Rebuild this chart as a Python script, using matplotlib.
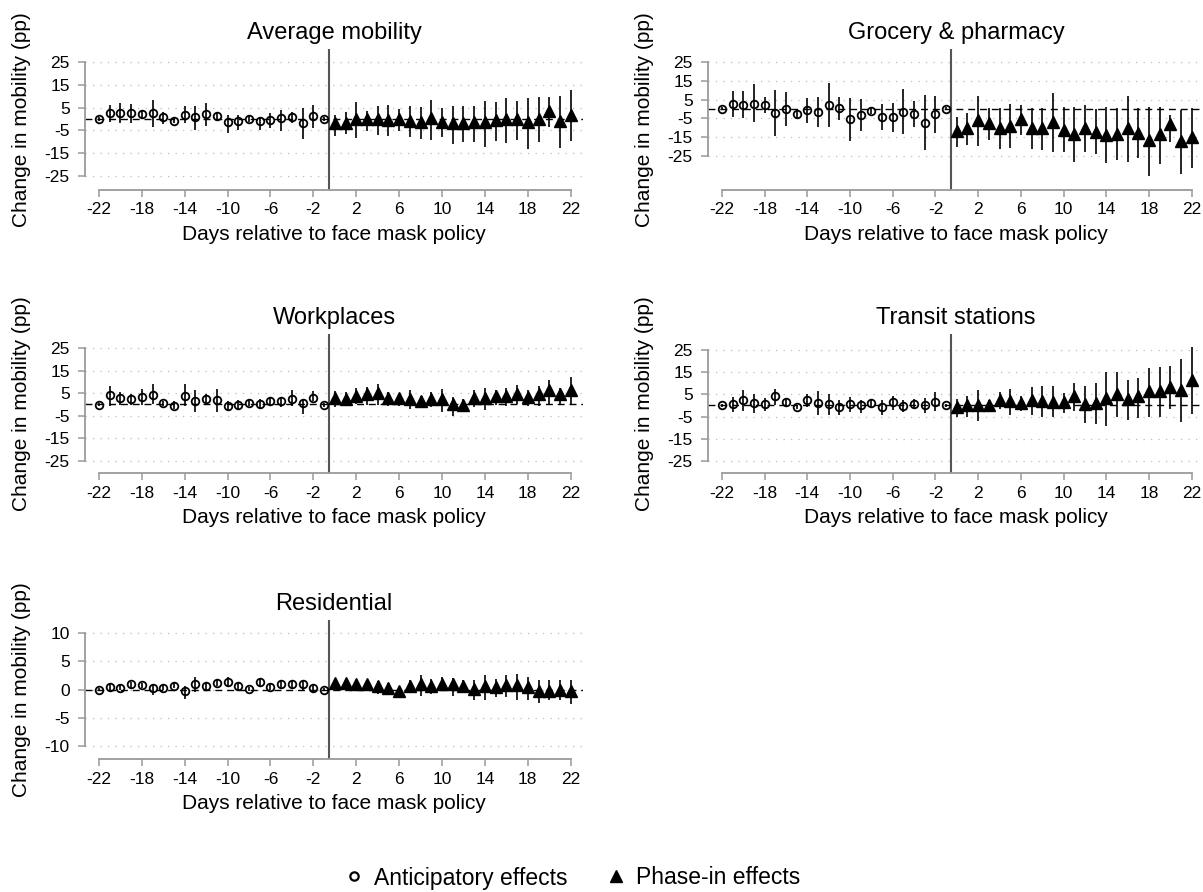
import matplotlib

matplotlib.use("Agg")
import matplotlib.pyplot as plt
from matplotlib.lines import Line2D
import numpy as np

plt.rcParams["font.family"] = ["Liberation Sans", "DejaVu Sans"]

DAYS = np.arange(-22, 23)
X_TICKS = list(range(-22, 23, 4))
Y_TICKS_WIDE = [25, 15, 5, -5, -15, -25]
Y_TICKS_RES = [10, 5, 0, -5, -10]
X_LABEL = "Days relative to face mask policy"
Y_LABEL = "Change in mobility (pp)"

# estimates and 95% CI bounds, days -22..22 (day < 0: anticipatory, day >= 0: phase-in)
AVG_EST = [0.0, 2.7, 2.7, 2.5, 2.2, 2.5, 1.0, -1.0, 1.8, 0.7, 2.1, 1.2, -1.5, -0.7, 0.0, -1.0, -0.4, 0.4, 0.7, -1.6, 1.2, 0.0,
           -1.9, -1.9, 0.0, -0.1, 0.0, -0.4, 0.0, -0.7, -1.3, 0.3, -1.3, -1.9, -1.9, -1.5, -1.3, -0.4, -0.1, -0.1, -1.3, 0.1, 3.6, -0.9, 1.9]
AVG_HI = [0.8, 6.2, 7.0, 6.7, 3.7, 8.4, 3.3, 0.3, 5.8, 5.5, 7.0, 2.5, 1.8, 1.8, 1.3, 1.0, 2.5, 4.0, 3.3, 4.7, 6.2, 0.8,
          1.8, 3.3, 7.3, 3.7, 5.8, 6.2, 4.3, 5.5, 5.2, 8.4, 4.7, 5.8, 5.5, 5.8, 8.1, 7.3, 9.2, 7.7, 9.2, 9.6, 9.6, 9.9, 12.7]
AVG_LO = [-0.8, -1.2, -1.9, -1.9, 0.3, -3.7, -2.2, -1.9, -1.9, -4.6, -3.1, -0.7, -6.1, -4.6, -1.2, -4.6, -4.1, -5.2, -1.9, -8.9, -4.1, -0.8,
          -7.6, -6.4, -8.1, -5.2, -6.8, -7.6, -5.2, -7.9, -8.6, -9.0, -7.9, -10.8, -10.0, -10.0, -12.3, -9.6, -10.5, -9.3, -13.0, -10.0, -3.4, -12.7, -9.5]

GRO_EST = [0.0, 2.7, 2.1, 2.8, 2.3, -2.3, 0.2, -2.7, -0.7, -1.4, 2.1, 0.7, -5.5, -3.0, -1.1, -4.4, -4.4, -1.4, -2.5, -7.3, -2.8, 0.0,
           -11.7, -9.9, -5.8, -7.6, -9.9, -8.8, -5.5, -9.9, -9.9, -6.7, -11.2, -13.3, -9.9, -12.4, -13.8, -13.3, -10.3, -12.6, -16.5, -13.5, -7.8, -17.0, -14.7]
GRO_HI = [0.8, 9.6, 9.6, 13.1, 6.5, 10.1, 8.8, 0.0, 6.0, 6.5, 13.6, 6.5, 6.0, 5.3, 0.4, 2.5, 3.0, 10.6, 4.2, 7.4, 6.9, 0.8,
          -4.1, -1.9, 7.1, 0.7, 0.7, 2.5, 2.1, 0.5, 0.3, 8.3, 0.8, 1.2, 2.1, 0.2, 1.0, 0.4, 7.1, 0.6, 1.2, 1.2, -3.2, -0.5, 0.4]
GRO_LO = [-0.8, -4.1, -5.0, -6.7, -2.3, -14.2, -8.8, -5.3, -7.6, -9.4, -9.4, -5.8, -17.0, -11.7, -2.8, -11.2, -12.0, -13.3, -9.4, -21.8, -12.9, -0.8,
          -20.0, -19.1, -19.5, -16.5, -21.2, -20.9, -13.8, -21.2, -21.8, -22.7, -23.0, -28.3, -23.0, -24.1, -28.8, -27.1, -28.0, -26.2, -35.4, -29.4, -17.4, -34.7, -31.2]

WRK_EST = [-0.1, 4.1, 2.7, 2.4, 3.3, 4.2, 0.5, -0.5, 3.8, 1.4, 2.3, 1.8, -0.5, -0.2, 0.8, 0.3, 1.4, 1.4, 2.3, 0.5, 2.9, -0.2,
           2.9, 2.6, 3.8, 4.4, 5.2, 2.9, 2.9, 2.6, 1.4, 2.3, 2.3, 0.3, -0.2, 2.9, 2.9, 3.8, 3.8, 4.8, 3.3, 4.4, 6.4, 4.4, 6.4]
WRK_HI = [0.7, 8.3, 5.6, 4.8, 6.8, 8.9, 1.4, 1.4, 8.9, 6.4, 4.8, 6.8, 1.4, 1.8, 2.6, 2.3, 3.3, 3.3, 6.4, 2.6, 5.9, 0.6,
          5.9, 5.3, 7.1, 7.9, 8.9, 5.6, 4.8, 6.4, 3.8, 5.3, 6.8, 3.3, 2.3, 6.4, 7.4, 6.4, 7.1, 8.6, 6.4, 8.3, 10.9, 7.4, 12.0]
WRK_LO = [-0.9, -0.5, -0.2, -0.2, -0.2, 0.3, -0.8, -2.0, -0.8, -3.5, 0.3, -3.2, -2.7, -2.0, -0.8, -2.0, -0.5, -1.2, -0.5, -4.2, 1.4, -1.0,
          -1.2, -0.8, 0.3, -0.2, -0.2, -0.5, -0.8, -2.0, -1.2, -1.2, -3.2, -5.0, -3.5, -1.2, -2.7, -0.2, -0.8, 0.3, -0.8, -0.8, -0.2, -0.2, -0.2]

TRN_EST = [0.0, 0.8, 2.3, 1.1, 0.8, 4.1, 1.4, -0.8, 2.3, 1.1, 0.8, -0.8, 0.5, 0.0, 1.1, -0.8, 1.4, -0.3, 0.9, 0.0, 1.5, 0.0,
           -0.8, 0.0, 0.0, 0.3, 2.3, 2.0, 1.1, 2.3, 2.0, 1.8, 1.5, 4.1, 0.8, 1.1, 3.5, 5.3, 3.0, 4.1, 6.5, 6.5, 8.3, 7.1, 11.7]
TRN_HI = [0.8, 3.8, 6.8, 5.0, 3.5, 7.6, 3.5, 0.2, 5.3, 6.5, 5.3, 2.6, 3.8, 2.6, 2.3, 2.3, 4.5, 2.3, 3.0, 3.5, 6.1, 0.8,
          3.0, 4.5, 6.8, 2.3, 6.1, 7.6, 4.5, 8.3, 8.6, 8.6, 5.6, 10.2, 8.6, 10.2, 15.2, 15.2, 11.7, 12.6, 16.7, 17.4, 17.7, 20.8, 26.2]
TRN_LO = [-0.8, -3.0, -2.6, -3.5, -2.6, 0.0, -0.8, -1.8, -0.8, -4.5, -4.1, -4.5, -3.0, -3.5, -0.5, -4.5, -2.0, -3.0, -1.5, -3.5, -2.6, -0.8,
          -5.3, -5.0, -7.1, -3.0, -1.5, -4.1, -2.3, -4.1, -5.0, -5.3, -3.5, -2.6, -8.0, -8.3, -9.1, -5.3, -6.5, -5.6, -5.0, -5.0, -1.5, -7.6, -3.8]

RES_EST = [0.0, 0.5, 0.35, 0.9, 0.75, 0.2, 0.35, 0.7, -0.25, 1.0, 0.65, 1.2, 1.4, 0.6, 0.1, 1.25, 0.5, 0.95, 0.95, 0.95, 0.2, 0.0,
           1.2, 1.2, 1.05, 1.0, 0.6, 0.2, -0.25, 0.6, 0.95, 0.7, 1.0, 0.95, 0.55, 0.05, 0.65, 0.45, 0.8, 0.8, 0.4, -0.2, -0.3, -0.1, -0.35]
RES_HI = [0.3, 0.9, 0.8, 1.35, 1.2, 0.9, 0.8, 1.2, 0.6, 2.3, 1.2, 1.6, 2.2, 1.2, 0.4, 2.1, 0.9, 1.5, 1.5, 1.5, 0.75, 0.3,
          1.9, 1.7, 1.6, 1.7, 1.5, 1.2, 0.35, 1.6, 2.5, 1.9, 2.2, 2.1, 1.6, 1.6, 2.6, 1.9, 2.6, 2.7, 2.2, 1.7, 1.6, 1.6, 1.7]
RES_LO = [-0.3, -0.2, -0.1, 0.35, 0.2, -1.0, -0.1, 0.2, -1.6, -0.5, 0.0, 0.6, 0.5, 0.0, -0.2, 0.4, 0.0, 0.35, 0.3, 0.0, -0.6, -0.3,
          0.0, 0.5, 0.2, 0.2, -0.8, -0.6, -0.7, -0.4, -1.1, -0.8, -0.2, -1.1, -0.5, -1.8, -1.8, -1.4, -1.3, -1.8, -1.9, -2.4, -1.9, -1.9, -2.6]

W, H = 1203, 892
GRID_C = "#bdbdbd"
AXIS_C = "#9a9a9a"


def add_axes_px(fig, left, top, right, bottom):
    return fig.add_axes([left / W, 1 - bottom / H, (right - left) / W, (bottom - top) / H])


def draw_panel(ax, title, est, lo, hi, yticks, ylim):
    est, lo, hi = np.asarray(est), np.asarray(lo), np.asarray(hi)
    assert len(est) == len(lo) == len(hi) == len(DAYS)
    pre = DAYS < 0
    post = ~pre

    for y in yticks:
        ax.axhline(y, color=GRID_C, lw=0.9, ls=(0, (1, 5)), zorder=1)
    ax.axhline(0, color="black", lw=1.0, ls=(0, (5, 3.5)), zorder=2)
    ax.axvline(-0.5, color="#555555", lw=1.5, zorder=2)

    ax.vlines(DAYS, lo, hi, color="black", lw=1.2, zorder=3)
    ax.plot(DAYS[pre], est[pre], ls="none", marker="o", ms=5.5, mfc="none",
            mec="black", mew=1.3, zorder=4)
    ax.plot(DAYS[post], est[post], ls="none", marker="^", ms=8, color="black", zorder=4)

    ax.set_xlim(-23.3, 23.15)
    ax.set_ylim(*ylim)
    ax.set_xticks(X_TICKS)
    ax.set_xticklabels([str(t) for t in X_TICKS])
    ax.set_yticks(yticks)
    ax.set_yticklabels([str(t) for t in yticks])
    ax.tick_params(axis="both", colors=AXIS_C, labelcolor="black", labelsize=12.5,
                   length=5, width=1.1)
    ax.tick_params(axis="y", pad=6)
    ax.tick_params(axis="x", pad=4)

    for s in ("top", "right"):
        ax.spines[s].set_visible(False)
    ax.spines["left"].set_bounds(min(yticks), max(yticks))
    ax.spines["bottom"].set_bounds(-22, 22)
    for s in ("left", "bottom"):
        ax.spines[s].set_color(AXIS_C)
        ax.spines[s].set_linewidth(1.3)

    ax.set_title(title, fontsize=17, pad=7)
    ax.set_xlabel(X_LABEL, fontsize=15)
    ax.set_ylabel(Y_LABEL, fontsize=15)
    ax.xaxis.set_label_coords(0.5, -0.25)
    ax.yaxis.set_label_coords(-0.108, 0.5)


fig = plt.figure(figsize=(W / 100, H / 100), dpi=100)

L_COL = (85, 583)
R_COL = (708, 1204)
ROWS = [(49, 190), (334, 473), (620, 759)]

ax1 = add_axes_px(fig, L_COL[0], ROWS[0][0], L_COL[1], ROWS[0][1])
draw_panel(ax1, "Average mobility", AVG_EST, AVG_LO, AVG_HI, Y_TICKS_WIDE, (-31.1, 30.7))

ax2 = add_axes_px(fig, R_COL[0], ROWS[0][0], R_COL[1], ROWS[0][1])
draw_panel(ax2, "Grocery & pharmacy", GRO_EST, GRO_LO, GRO_HI, Y_TICKS_WIDE, (-43.1, 31.9))

ax3 = add_axes_px(fig, L_COL[0], ROWS[1][0], L_COL[1], ROWS[1][1])
draw_panel(ax3, "Workplaces", WRK_EST, WRK_LO, WRK_HI, Y_TICKS_WIDE, (-30.4, 31.2))

ax4 = add_axes_px(fig, R_COL[0], ROWS[1][0], R_COL[1], ROWS[1][1])
draw_panel(ax4, "Transit stations", TRN_EST, TRN_LO, TRN_HI, Y_TICKS_WIDE, (-30.4, 32.2))

ax5 = add_axes_px(fig, L_COL[0], ROWS[2][0], L_COL[1], ROWS[2][1])
draw_panel(ax5, "Residential", RES_EST, RES_LO, RES_HI, Y_TICKS_RES, (-12.3, 12.3))

handles = [
    Line2D([], [], ls="none", marker="o", ms=6, mfc="none", mec="black", mew=1.6,
           label="Anticipatory effects"),
    Line2D([], [], ls="none", marker="^", ms=9, color="black", label="Phase-in effects"),
]
fig.legend(handles=handles, loc="center", bbox_to_anchor=(0.475, 1 - 878 / H), ncol=2,
           frameon=False, fontsize=16.5, handlelength=1.0, handletextpad=0.4,
           columnspacing=1.6)

fig.savefig("out.png", dpi=100)
